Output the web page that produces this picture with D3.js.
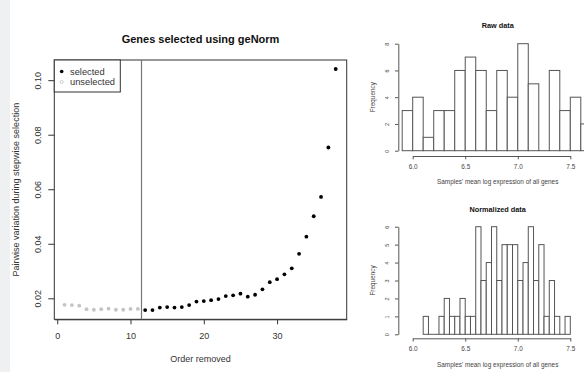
<!DOCTYPE html>
<html>
<head>
<meta charset="utf-8">
<script src="https://cdn.jsdelivr.net/npm/d3@7"></script>
<style>
  html, body { margin: 0; padding: 0; background: #fff; }
  svg { display: block; font-family: "Liberation Sans", Arial, sans-serif; }
</style>
</head>
<body>
<svg id="chart" width="584" height="372"></svg>
<script>
// geNorm stepwise selection: pairwise variation per removed gene
const orderRemoved = [1, 2, 3, 4, 5, 6, 7, 8, 9, 10, 11, 12, 13, 14, 15, 16, 17, 18, 19,
  20, 21, 22, 23, 24, 25, 26, 27, 28, 29, 30, 31, 32, 33, 34, 35, 36, 37, 38];
const pairwiseVariation = [0.0176, 0.0175, 0.0173, 0.0160, 0.0158, 0.0160, 0.0162, 0.0158,
  0.0158, 0.0161, 0.0161, 0.0157, 0.0157, 0.0166, 0.0168, 0.0166, 0.0168, 0.0175, 0.0188,
  0.0190, 0.0193, 0.0197, 0.0208, 0.0211, 0.0217, 0.0206, 0.0213, 0.0233, 0.0259, 0.0270,
  0.0288, 0.0310, 0.0363, 0.0426, 0.0501, 0.0572, 0.0753, 0.1041];
const cutoff = 11.5;
const xTicks = [0, 10, 20, 30];
const yTicks = [0.02, 0.04, 0.06, 0.08, 0.10];

// Histogram of samples' mean log expression, raw data (bin width 0.1)
const rawBins = [5.9, 6.0, 6.1, 6.2, 6.3, 6.4, 6.5, 6.6, 6.7, 6.8, 6.9, 7.0, 7.1, 7.2, 7.3, 7.4, 7.5, 7.6];
const rawCounts = [3, 4, 1, 3, 3, 6, 7, 6, 3, 6, 4, 8, 5, 0, 6, 3, 4, 2];
const rawBinWidth = 0.1;
const rawYTicks = [0, 2, 4, 6, 8];

// Histogram after normalization (bin width 0.05)
const normBins = [6.10, 6.15, 6.20, 6.25, 6.30, 6.35, 6.40, 6.45, 6.50, 6.55, 6.60, 6.65, 6.70,
  6.75, 6.80, 6.85, 6.90, 6.95, 7.00, 7.05, 7.10, 7.15, 7.20, 7.25, 7.30, 7.35, 7.40, 7.45];
const normCounts = [1, 0, 0, 1, 2, 1, 1, 2, 1, 1, 6, 3, 4, 6, 3, 5, 5, 5, 3, 4, 6, 3, 5, 1, 3, 1, 0, 1];
const normBinWidth = 0.05;
const normYTicks = [0, 1, 2, 3, 4, 5, 6];
const histXTicks = [6.0, 6.5, 7.0, 7.5];

const svg = d3.select("#chart");
const fmt2 = d3.format(".2f");

// light page margin strip on the left
svg.append("rect").attr("x", 0).attr("y", 0).attr("width", 10).attr("height", 372).attr("fill", "#eff0f2");

// ---------- Left: scatter of pairwise variation ----------
const x = d3.scaleLinear().domain([-0.4, 39.5]).range([54.3, 346.7]);
const y = d3.scaleLinear().domain([0.0123, 0.1074]).range([319.3, 60]);

svg.append("text")
  .attr("x", 200.5).attr("y", 43)
  .attr("text-anchor", "middle")
  .attr("font-size", 11).attr("font-weight", "bold").attr("fill", "#111")
  .text("Genes selected using geNorm");

const xAxis = svg.append("g")
  .attr("transform", `translate(0,${y.range()[0]})`)
  .call(d3.axisBottom(x).tickValues(xTicks).tickSize(5).tickSizeOuter(0).tickFormat(d3.format("d")));
xAxis.attr("font-family", null);
xAxis.select(".domain").attr("stroke", "#333");
xAxis.selectAll(".tick line").attr("stroke", "#333");
xAxis.selectAll(".tick text").attr("font-size", 9).attr("fill", "#333").attr("y", 13);

const yAxis = svg.append("g")
  .attr("transform", `translate(${x.range()[0]},0)`)
  .call(d3.axisLeft(y).tickValues(yTicks).tickSize(6).tickSizeOuter(0).tickFormat(fmt2));
yAxis.attr("font-family", null);
yAxis.select(".domain").remove();
yAxis.selectAll(".tick line").attr("stroke", "#333");
yAxis.selectAll(".tick text")
  .attr("font-size", 9).attr("fill", "#333")
  .attr("x", null).attr("dy", null)
  .attr("text-anchor", "middle")
  .attr("transform", "translate(-13,0) rotate(-90)");

// plot box
svg.append("rect")
  .attr("x", x.range()[0]).attr("y", y.range()[1])
  .attr("width", x.range()[1] - x.range()[0])
  .attr("height", y.range()[0] - y.range()[1])
  .attr("fill", "none").attr("stroke", "#333").attr("stroke-width", 1);

// cutoff line
svg.append("line")
  .attr("x1", x(cutoff)).attr("x2", x(cutoff))
  .attr("y1", y.range()[1]).attr("y2", y.range()[0])
  .attr("stroke", "#777").attr("stroke-width", 1.2);

svg.append("g").selectAll("circle")
  .data(orderRemoved.map((o, i) => ({ o, v: pairwiseVariation[i] })))
  .join("circle")
  .attr("cx", d => x(d.o)).attr("cy", d => y(d.v)).attr("r", 1.9)
  .attr("fill", d => d.o > cutoff ? "#000" : "#c4c4c4");

svg.append("text")
  .attr("transform", `translate(19,${(y.range()[0] + y.range()[1]) / 2}) rotate(-90)`)
  .attr("text-anchor", "middle").attr("font-size", 9).attr("fill", "#333")
  .text("Pairwise variation during stepwise selection");

svg.append("text")
  .attr("x", (x.range()[0] + x.range()[1]) / 2).attr("y", 362)
  .attr("text-anchor", "middle").attr("font-size", 9).attr("fill", "#333")
  .text("Order removed");

// legend
const legend = svg.append("g");
legend.append("rect")
  .attr("x", x.range()[0]).attr("y", y.range()[1])
  .attr("width", 66).attr("height", 32)
  .attr("fill", "#fff").attr("stroke", "#333");
legend.append("circle").attr("cx", 61.7).attr("cy", 71.5).attr("r", 1.8).attr("fill", "#000");
legend.append("circle").attr("cx", 61.7).attr("cy", 82).attr("r", 1.5)
  .attr("fill", "none").attr("stroke", "#c4c4c4").attr("stroke-width", 0.8);
legend.append("text").attr("x", 70).attr("y", 74.8).attr("font-size", 9.3).attr("fill", "#333").text("selected");
legend.append("text").attr("x", 70).attr("y", 85.4).attr("font-size", 9.3).attr("fill", "#333").text("unselected");

// ---------- Right: histograms ----------
function histogram(opts) {
  const hx = d3.scaleLinear().domain([6.0, 7.5]).range([412.7, 570.3]);
  const hy = d3.scaleLinear().domain(opts.yDomain).range(opts.yRange);
  const g = svg.append("g");
  const data = opts.bins.map((b, i) => ({ b, c: opts.counts[i] }));

  g.append("text")
    .attr("x", 497.7).attr("y", opts.titleY)
    .attr("text-anchor", "middle").attr("font-size", 7.3).attr("font-weight", "bold").attr("fill", "#111")
    .text(opts.title);

  g.selectAll("rect.bar")
    .data(data.filter(d => d.c > 0))
    .join("rect").attr("class", "bar")
    .attr("x", d => hx(d.b)).attr("width", d => hx(d.b + opts.width) - hx(d.b))
    .attr("y", d => hy(d.c)).attr("height", d => hy(0) - hy(d.c))
    .attr("fill", "#fff").attr("stroke", "#555").attr("stroke-width", 1);

  // empty bins collapse to a flat segment on the baseline
  g.selectAll("line.empty")
    .data(data.filter(d => d.c === 0))
    .join("line").attr("class", "empty")
    .attr("x1", d => hx(d.b)).attr("x2", d => hx(d.b + opts.width))
    .attr("y1", hy(0)).attr("y2", hy(0))
    .attr("stroke", "#555").attr("stroke-width", 1);

  const ax = g.append("g")
    .attr("transform", `translate(0,${opts.xAxisY})`)
    .call(d3.axisBottom(hx).tickValues(histXTicks).tickSize(3.3).tickSizeOuter(0).tickFormat(d3.format(".1f")));
  ax.attr("font-family", null);
  ax.select(".domain").attr("stroke", "#555");
  ax.selectAll(".tick line").attr("stroke", "#555");
  ax.selectAll(".tick text").attr("font-size", 6.4).attr("fill", "#444").attr("y", 8);

  const ay = g.append("g")
    .attr("transform", "translate(398.3,0)")
    .call(d3.axisLeft(hy).tickValues(opts.yTicks).tickSize(3.3).tickSizeOuter(0).tickFormat(d3.format("d")));
  ay.attr("font-family", null);
  ay.select(".domain").attr("stroke", "#555");
  ay.selectAll(".tick line").attr("stroke", "#555");
  ay.selectAll(".tick text")
    .attr("font-size", 5.5).attr("fill", "#444")
    .attr("x", null).attr("dy", null).attr("text-anchor", "middle")
    .attr("transform", "translate(-9.5,0) rotate(-90)");

  g.append("text")
    .attr("transform", `translate(374.8,${(opts.yRange[0] + opts.yRange[1]) / 2}) rotate(-90)`)
    .attr("text-anchor", "middle").attr("font-size", 6.4).attr("fill", "#444")
    .text("Frequency");

  g.append("text")
    .attr("x", 497.7).attr("y", opts.xLabelY)
    .attr("text-anchor", "middle").attr("font-size", 6.4).attr("fill", "#444")
    .text("Samples' mean log expression of all genes");
}

histogram({
  title: "Raw data", titleY: 27.5,
  bins: rawBins, counts: rawCounts, width: rawBinWidth,
  yDomain: [0, 8], yRange: [150.7, 43.7], yTicks: rawYTicks,
  xAxisY: 156, xLabelY: 184
});

histogram({
  title: "Normalized data", titleY: 211.5,
  bins: normBins, counts: normCounts, width: normBinWidth,
  yDomain: [0, 6], yRange: [334.3, 226.7], yTicks: normYTicks,
  xAxisY: 338.3, xLabelY: 367.3
});
</script>
</body>
</html>
